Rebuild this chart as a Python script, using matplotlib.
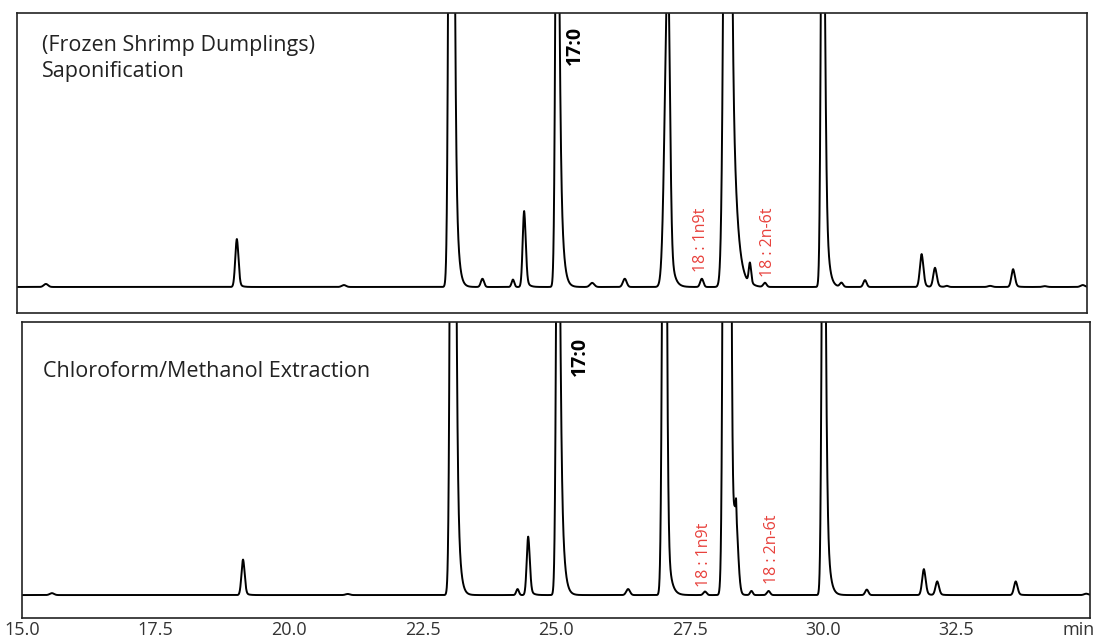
import numpy as np
import matplotlib
matplotlib.use("Agg")
import matplotlib.pyplot as plt

plt.rcParams['font.family'] = ['Open Sans', 'DejaVu Sans']

# peak tables (retention time in min, height in % of full scale)
# top: saponification
top_rt   = [15.54, 19.11, 21.11, 23.12, 23.70, 24.27, 24.48, 25.10, 25.75, 26.36, 27.17, 27.80,
            28.29, 28.70, 28.98, 30.06, 30.41, 30.85, 31.91, 32.16, 32.38, 33.19, 33.62, 34.21, 34.92]
top_h    = [1.1, 17.5, 0.7, 500, 3.0, 2.7, 27.7, 230, 1.5, 3.0, 120, 3.0,
            464, 7.5, 1.5, 222, 1.5, 2.5, 12.0, 7.0, 0.4, 0.4, 6.5, 0.3, 0.7]
top_sl   = [0.04, 0.03, 0.04, 0.036, 0.03, 0.025, 0.028, 0.031, 0.04, 0.035, 0.058, 0.03,
            0.054, 0.022, 0.03, 0.029, 0.03, 0.03, 0.033, 0.033, 0.03, 0.04, 0.033, 0.04, 0.04]
top_sr   = [0.04, 0.03, 0.04, 0.039, 0.03, 0.025, 0.03, 0.035, 0.04, 0.035, 0.035, 0.03,
            0.041, 0.022, 0.03, 0.037, 0.03, 0.03, 0.033, 0.033, 0.03, 0.04, 0.033, 0.04, 0.04]
top_tail = [0, 0.15, 0, 0.6, 0, 0, 0.2, 0.75, 0, 0, 0.3, 0,
            0.52, 0.2, 0, 0.5, 0, 0, 0.2, 0.2, 0, 0, 0.2, 0, 0]
top_tau  = [0.05, 0.05, 0.05, 0.045, 0.05, 0.05, 0.05, 0.048, 0.05, 0.05, 0.06, 0.05,
            0.08, 0.05, 0.05, 0.05, 0.05, 0.05, 0.05, 0.05, 0.05, 0.05, 0.05, 0.05, 0.05]

# bottom: chloroform/methanol extraction
bot_rt   = [15.56, 19.14, 21.10, 23.07, 24.28, 24.48, 25.04, 26.35, 27.03, 27.79, 28.20,
            28.36, 28.372, 28.66, 28.98, 30.01, 30.82, 31.89, 32.14, 33.61, 34.93]
bot_h    = [0.7, 13.0, 0.4, 500, 2.2, 21.4, 230, 2.2, 280, 1.3, 1000,
            30, 5, 1.5, 1.5, 222, 2.0, 9.5, 5.0, 5.0, 0.5]
bot_sl   = [0.04, 0.03, 0.04, 0.036, 0.025, 0.028, 0.031, 0.035, 0.033, 0.03, 0.04,
            0.045, 0.006, 0.025, 0.03, 0.029, 0.03, 0.033, 0.033, 0.033, 0.04]
bot_sr   = [0.04, 0.03, 0.04, 0.039, 0.025, 0.03, 0.035, 0.035, 0.035, 0.03, 0.042,
            0.045, 0.006, 0.025, 0.03, 0.037, 0.03, 0.033, 0.033, 0.033, 0.04]
bot_tail = [0, 0.15, 0, 0.6, 0, 0.2, 0.75, 0, 0.2, 0, 0.02,
            0, 0, 0, 0, 0.5, 0, 0.2, 0.2, 0.2, 0]
bot_tau  = [0.05, 0.05, 0.05, 0.045, 0.05, 0.05, 0.048, 0.05, 0.06, 0.05, 0.06,
            0.05, 0.05, 0.05, 0.05, 0.05, 0.05, 0.05, 0.05, 0.05, 0.05]

top_title = ["(Frozen Shrimp Dumplings)", "Saponification"]
bot_title = "Chloroform/Methanol Extraction"
xticks = [15.0, 17.5, 20.0, 22.5, 25.0, 27.5, 30.0, 32.5]

red = '#e8413c'
t = np.linspace(15, 35, 20001)


def trace(rt, h, sl, sr, tail, tau):
    y = np.zeros_like(t)
    for c, H, a, b, f, k in zip(rt, h, sl, sr, tail, tau):
        d = t - c
        left = H * np.exp(-0.5 * (d / a) ** 2)
        right = H * ((1 - f) * np.exp(-0.5 * (d / b) ** 2) + f * np.exp(-np.clip(d, 0, None) / k))
        y += np.where(d < 0, left, right)
    return y


fig = plt.figure(figsize=(11.01, 6.43), dpi=100)
ax1 = fig.add_axes([17/1101, 1-313/643, 1070/1101, 300/643])
ax2 = fig.add_axes([22/1101, 1-618/643, 1068/1101, 296/643])

ax1.plot(t, trace(top_rt, top_h, top_sl, top_sr, top_tail, top_tau), color='black', lw=1.4)
ax2.plot(t, trace(bot_rt, bot_h, bot_sl, bot_sr, bot_tail, bot_tau), color='black', lw=1.4)

ax1.set_ylim(-9.5, 100)
ax2.set_ylim(-8.4, 100)
for ax in (ax1, ax2):
    ax.set_xlim(15, 35)
    ax.set_yticks([])
    for s in ax.spines.values():
        s.set_linewidth(1.2)
        s.set_color('#222222')

ax1.set_xticks([])
ax2.set_xticks(xticks)
ax2.set_xticklabels(['{:.1f}'.format(v) for v in xticks], fontsize=13, color='#333333')
ax2.tick_params(axis='x', length=0, pad=2)
ax2.annotate('min', xy=(1, 0), xycoords='axes fraction', xytext=(5, -3),
             textcoords='offset pixels', ha='right', va='top', fontsize=13, color='#333333')

ax1.text(15.47, 88.3, top_title[0], fontsize=15.5, color='#222222', va='center')
ax1.text(15.47, 78.5, top_title[1], fontsize=15.5, color='#222222', va='center')
ax2.text(15.39, 81.7, bot_title, fontsize=15.5, color='#222222', va='center')

ax1.text(25.43, 88, '17:0', rotation=90, fontsize=14, fontweight='bold', ha='center', va='center')
ax2.text(25.45, 87.5, '17:0', rotation=90, fontsize=14, fontweight='bold', ha='center', va='center')

ax1.text(27.78, 5.5, '18 : 1n9t', rotation=90, color=red, fontsize=11.5, ha='center', va='bottom')
ax1.text(29.04, 3.6, '18 : 2n-6t', rotation=90, color=red, fontsize=11.5, ha='center', va='bottom')
ax2.text(27.77, 2.9, '18 : 1n9t', rotation=90, color=red, fontsize=11.5, ha='center', va='bottom')
ax2.text(29.04, 4.0, '18 : 2n-6t', rotation=90, color=red, fontsize=11.5, ha='center', va='bottom')

fig.savefig('out.png', dpi=100)
